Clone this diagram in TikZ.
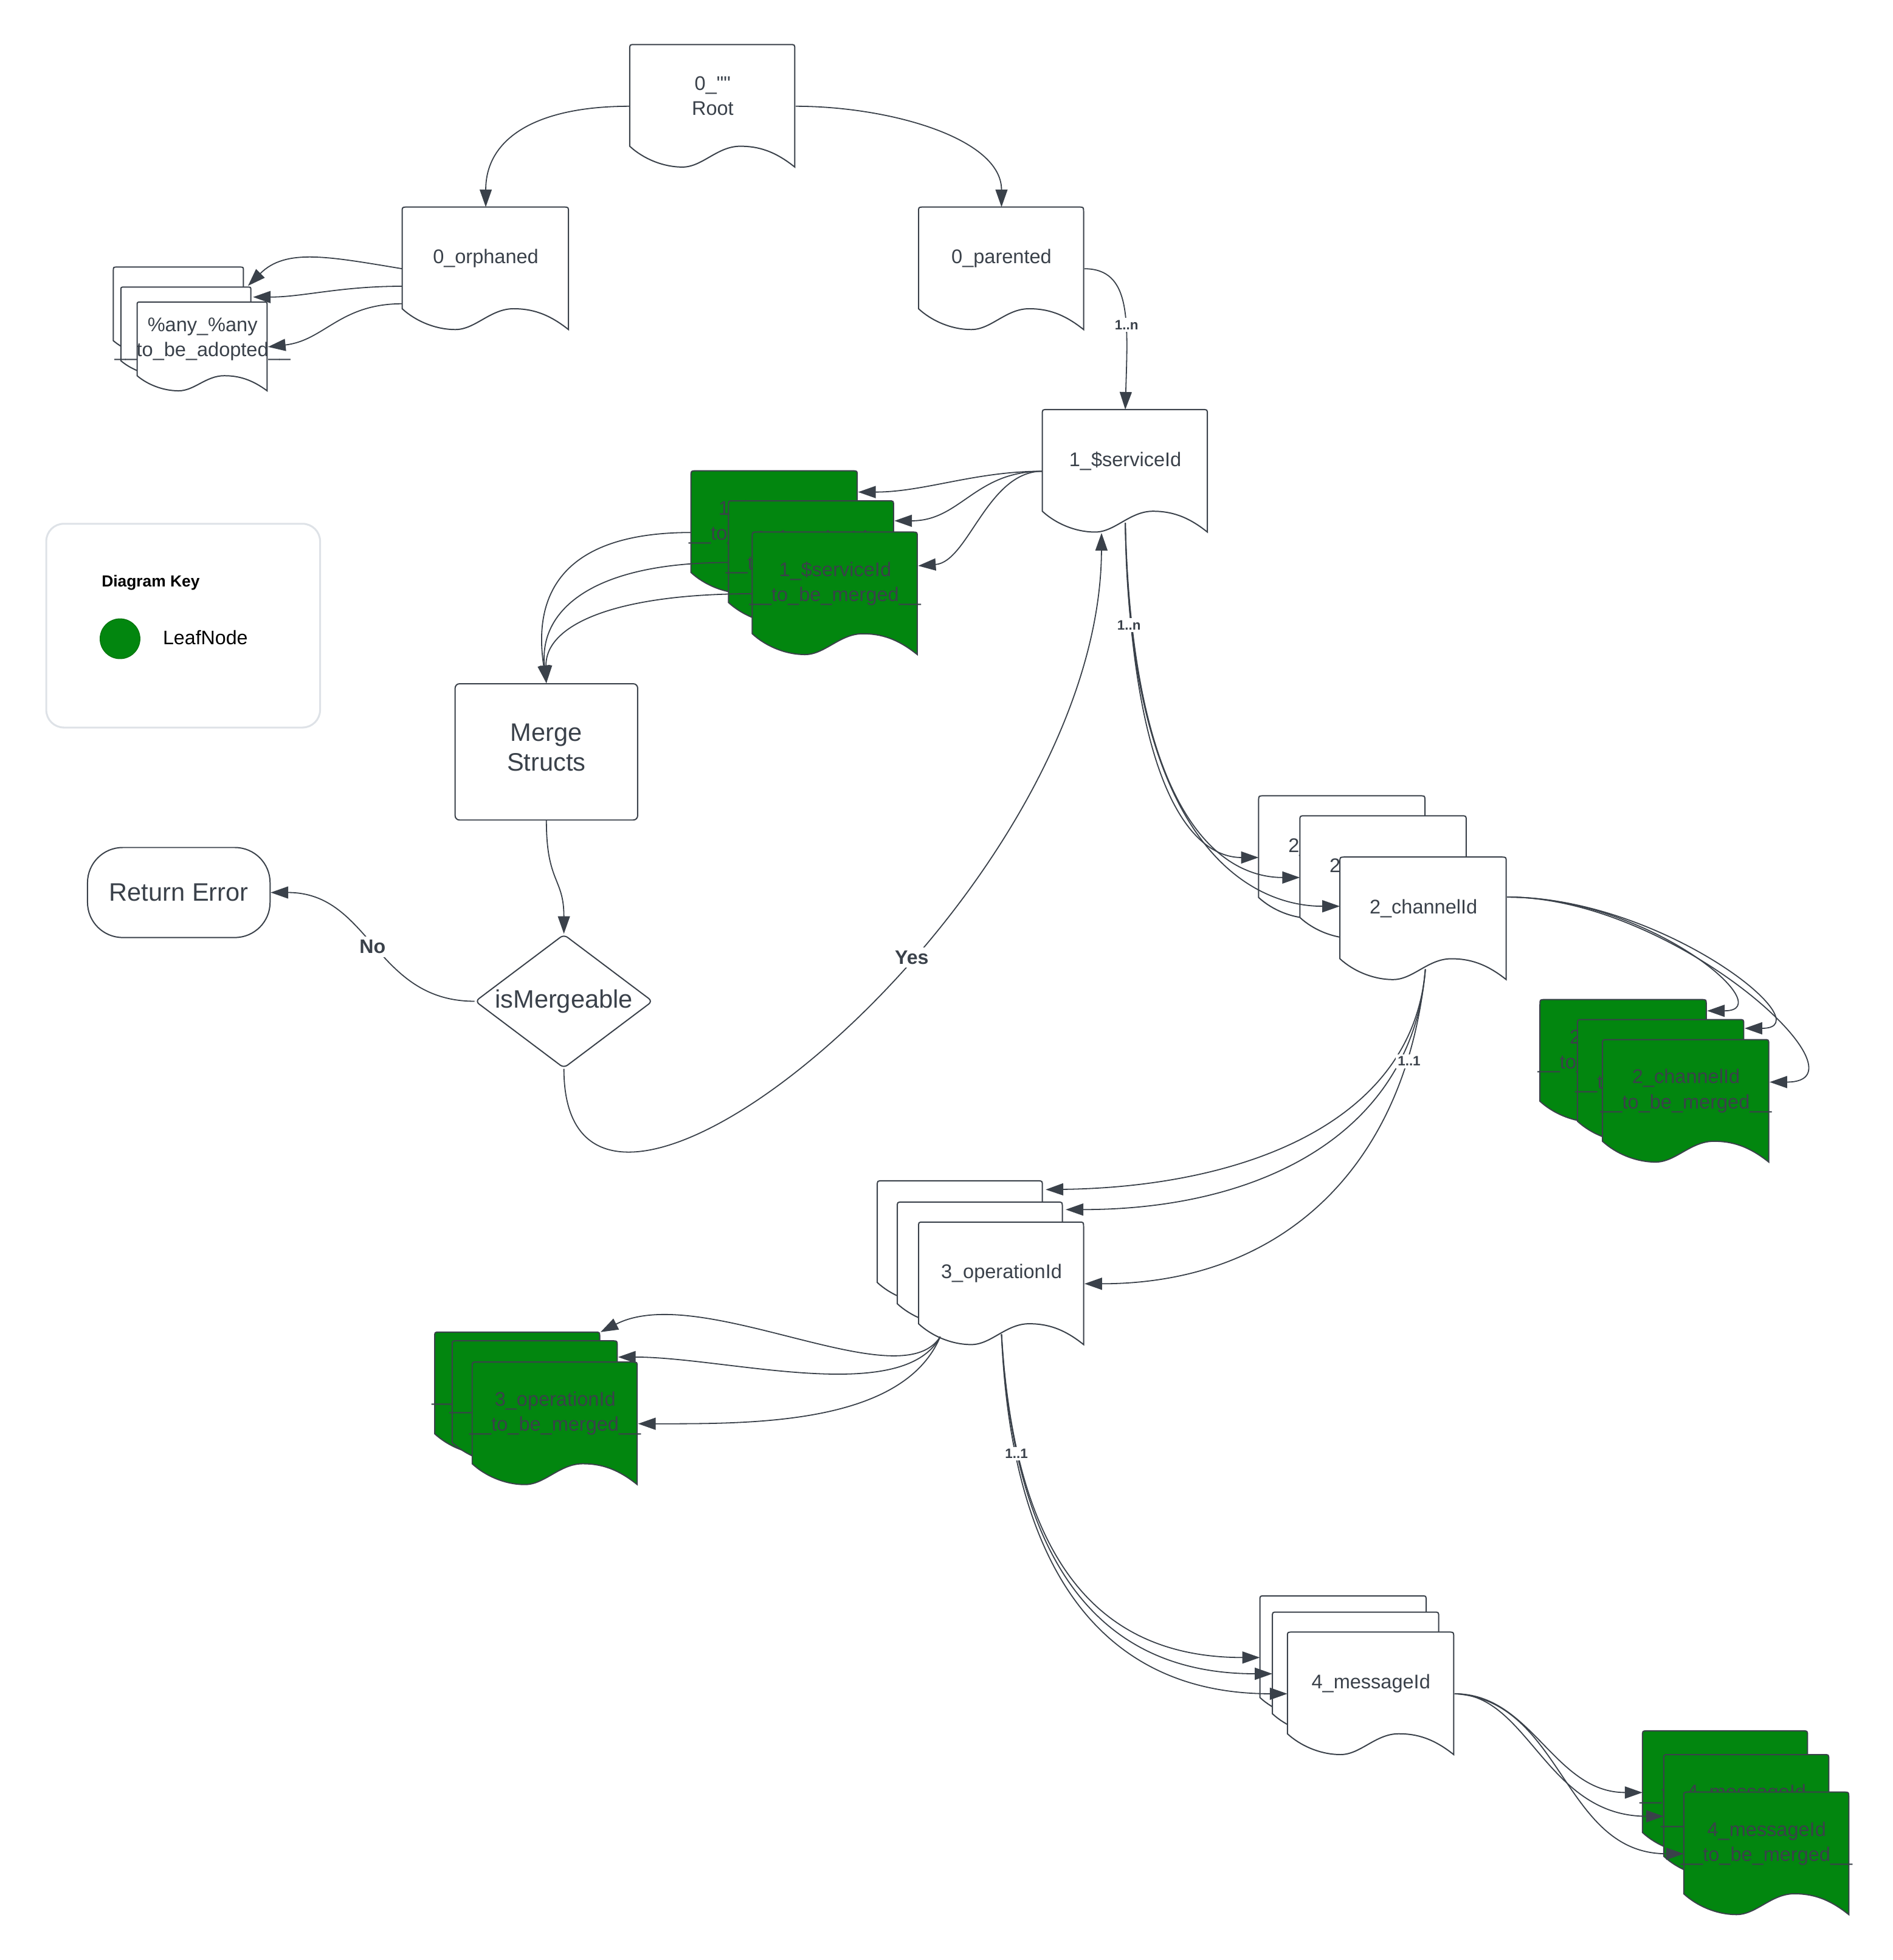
\documentclass[tikz,border=0pt]{standalone}
\usepackage{fontspec}
\setmainfont{Liberation Sans}
\font\rootqfont="Liberation Sans" at 9pt
\usetikzlibrary{arrows.meta,calc,shapes.geometric}
\definecolor{ink}{HTML}{3A414A}
\definecolor{leaf}{HTML}{02860F}
\definecolor{keygray}{HTML}{DEE2E7}

% document shape: name, left, top, width, height, fill, text
\newcommand\docnode[7]{%
  \node[docbox, minimum width=#4*0.02cm, minimum height=#5*0.02cm] (#1) at (#2+#4/2,-#3-#5/2) {};
  \begin{scope}[shift={(#1.north west)}, xscale=#4, yscale=#5]
    \filldraw[docline, fill=#6] (0,-0.83) -- (0,-0.04) .. controls (0,0) .. (0.03,0)
      -- (0.97,0) .. controls (1,0) .. (1,-0.04) -- (1,-1)
      .. controls (0.88,-0.87) and (0.78,-0.83) .. (0.67,-0.83)
      .. controls (0.53,-0.83) and (0.44,-1) .. (0.32,-1)
      .. controls (0.2,-1) and (0.08,-0.93) .. (0,-0.83) -- cycle;
  \end{scope}
  \node[doctext] (#1-t) at ($(#1.north)+(0,-0.42*#5)$) {#7};
}

\begin{document}
\begin{tikzpicture}[x=0.02cm, y=0.02cm,
  docbox/.style={draw=none, inner sep=0pt},
  docline/.style={draw=ink, line width=0.55pt},
  doctext/.style={text=ink, align=center, inner sep=0pt, font=\fontsize{9}{11.4}\selectfont},
  bigbox/.style={draw=ink, line width=0.55pt, fill=white, text=ink, align=center, font=\fontsize{11.5}{13.7}\selectfont},
  link/.style={draw=ink, line width=0.5pt, -{Triangle[length=8pt,width=5.5pt]}},
  mult/.style={fill=white, text=ink, inner sep=1pt, font=\bfseries\fontsize{6.2}{7}\selectfont},
  answer/.style={fill=white, text=ink, inner sep=1.5pt, font=\bfseries\fontsize{8.9}{10}\selectfont}]
\useasboundingbox (0,0) rectangle (1514,-1568);

% key
\node[draw=keygray, line width=0.85pt, rounded corners=8pt, minimum width=219*0.02cm, minimum height=163*0.02cm] (key) at (146.5,-500.5) {};
\node[anchor=west, inner sep=0pt, font=\bfseries\fontsize{7.3}{9}\selectfont] (key-title) at (81,-466) {Diagram Key};
\node[circle, fill=leaf, draw=leaf!85!black, line width=0.3pt, minimum size=32*0.02cm, inner sep=0pt] (key-dot) at (96,-511) {};
\node[anchor=west, inner sep=0pt, font=\fontsize{8.9}{10}\selectfont] (key-leaf) at (130,-510) {LeafNode};

% documents
\docnode{root}{504}{36}{132}{98}{white}{0\_{\rootqfont ""}\\Root}
\docnode{orph}{322}{166}{133}{98}{white}{0\_orphaned}
\docnode{par}{735}{166}{132}{98}{white}{0\_parented}
\docnode{any1}{91}{214}{104}{71}{white}{}
\docnode{any2}{97}{230}{104}{71}{white}{}
\docnode{any3}{110}{242}{104}{71}{white}{\%any\_\%any\\\_\_to\_be\_adopted\_\_}
\docnode{svc}{834}{328}{132}{98}{white}{1\_\$serviceId}
\docnode{svcm1}{553}{377}{133}{98}{leaf}{1\_\$serviceId\\\_\_to\_be\_merged\_\_}
\docnode{svcm2}{583}{401}{132}{98}{leaf}{1\_\$serviceId\\\_\_to\_be\_merged\_\_}
\docnode{svcm3}{602}{426}{132}{98}{leaf}{1\_\$serviceId\\\_\_to\_be\_merged\_\_}
\docnode{chan1}{1007}{637}{133}{98}{white}{2\_channelId}
\docnode{chan2}{1040}{653}{133}{98}{white}{2\_channelId}
\docnode{chan3}{1072}{686}{133}{98}{white}{2\_channelId}
\docnode{chm1}{1232}{800}{133}{98}{leaf}{2\_channelId\\\_\_to\_be\_merged\_\_}
\docnode{chm2}{1262}{816}{133}{98}{leaf}{2\_channelId\\\_\_to\_be\_merged\_\_}
\docnode{chm3}{1282}{832}{133}{98}{leaf}{2\_channelId\\\_\_to\_be\_merged\_\_}
\docnode{op1}{702}{945}{132}{98}{white}{3\_operationId}
\docnode{op2}{718}{962}{132}{98}{white}{3\_operationId}
\docnode{op3}{735}{978}{132}{98}{white}{3\_operationId}
\docnode{opm1}{348}{1066}{132}{98}{leaf}{3\_operationId\\\_\_to\_be\_merged\_\_}
\docnode{opm2}{362}{1073}{132}{98}{leaf}{3\_operationId\\\_\_to\_be\_merged\_\_}
\docnode{opm3}{378}{1090}{132}{98}{leaf}{3\_operationId\\\_\_to\_be\_merged\_\_}
\docnode{msg1}{1008}{1277}{133}{98}{white}{4\_messageId}
\docnode{msg2}{1018}{1290}{133}{98}{white}{4\_messageId}
\docnode{msg3}{1030}{1306}{133}{98}{white}{4\_messageId}
\docnode{msgm1}{1314}{1385}{132}{98}{leaf}{4\_messageId\\\_\_to\_be\_merged\_\_}
\docnode{msgm2}{1331}{1404}{132}{98}{leaf}{4\_messageId\\\_\_to\_be\_merged\_\_}
\docnode{msgm3}{1347}{1434}{132}{98}{leaf}{4\_messageId\\\_\_to\_be\_merged\_\_}

% merge check
\node[bigbox, rounded corners=2pt, minimum width=146*0.02cm, minimum height=109*0.02cm] (merge) at (437,-601.5) {};
\node[text=ink, align=center, inner sep=0pt, font=\fontsize{11.5}{13.7}\selectfont] (merge-t) at ($(merge)+(0,3.5)$) {Merge\\Structs};
\node[bigbox, diamond, aspect=1.33, inner sep=0pt, rounded corners=2pt, minimum width=142*0.02cm, minimum height=107*0.02cm] (ism) at (451,-801) {isMergeable};
\node[bigbox, rounded corners=16pt, minimum width=146*0.02cm, minimum height=72*0.02cm] (err) at (143,-714) {Return Error};

\coordinate (svc-b) at ($(svc.south)+(0,8)$);
\coordinate (chan-r) at ($(chan3.north east)+(0,-32)$);
\coordinate (chan-b) at ($(chan3.south)+(1.5,9)$);
\coordinate (op-l) at ($(op3.south)+(-49,7)$);
\coordinate (op-b) at ($(op3.south)+(0,9)$);

% connectors
\draw[link] (root.west) .. controls +(-75,0) and +(0,55) .. (orph.north);
\draw[link] (root.east) .. controls +(75,0) and +(0,55) .. (par.north);
\draw[link] (orph.west) .. controls +(-60,10) and +(30,30) .. ($(any1.north east)+(3,-15)$);
\draw[link] ($(orph.west)+(0,-14)$) .. controls +(-50,0) and +(40,0) .. ($(any2.north east)+(1,-8)$);
\draw[link] ($(orph.west)+(0,-28)$) .. controls +(-50,0) and +(45,5) .. (any3.east);
\draw[link] (par.east) .. controls +(38,0) and +(2,70) .. (svc.north);
\draw[link] (svc.west) .. controls +(-54,0) and +(53,0) .. ($(svcm1.north east)+(0,-17)$);
\draw[link] (svc.west) .. controls +(-54,0) and +(53,0) .. ($(svcm2.north east)+(0,-16)$);
\draw[link] (svc.west) .. controls +(-44,0) and +(40,3) .. ($(svcm3.north east)+(0,-27)$);
\draw[link] (svcm1.west) .. controls +(-103,0) and +(-11,71) .. (merge.north);
\draw[link] (svcm2.west) .. controls +(-113,0) and +(-6,56) .. (merge.north);
\draw[link] (svcm3.west) .. controls +(-112,0) and +(-1,46) .. (merge.north);
\draw[link] (merge.south) .. controls +(0,-50) and +(0,45) .. (ism.north);
\draw[link] (ism.west) .. controls +(-80,0) and +(80,0) .. (err.east) node[answer, pos=0.5] (no) {No};
\draw[link] (ism.south) .. controls +(0,-215) and +(-1,-294) .. ($(svc.south)+(-19,0)$) node[answer, pos=0.6] (yes) {Yes};
\draw[link] (svc-b) .. controls +(5,-220) and +(-50,0) .. (chan1.west);
\draw[link] (svc-b) .. controls +(6,-240) and +(-60,0) .. (chan2.west);
\draw[link] (svc-b) .. controls +(3,-260) and +(-70,0) .. ($(chan3.west)+(0,10)$);
\draw[link] (chan-r) .. controls +(115,0) and +(60,0) .. ($(chm1.north east)+(0,-9)$);
\draw[link] (chan-r) .. controls +(125,0) and +(65,0) .. ($(chm2.north east)+(0,-7)$);
\draw[link] (chan-r) .. controls +(135,0) and +(85,0) .. ($(chm3.north east)+(0,-34)$);
\draw[link] (chan-b) .. controls +(-10,-125) and +(154,2) .. ($(op1.north east)+(2,-7)$);
\draw[link] (chan-b) .. controls +(-10,-130) and +(158,0) .. ($(op2.north east)+(2,-6)$);
\draw[link] (chan-b) .. controls +(-15,-155) and +(161,0) .. (op3.east);
\draw[link] (op-l) .. controls +(-32,-51) and +(80,41) .. (opm1.north east);
\draw[link] (op-l) .. controls +(-30,-56) and +(86,0) .. ($(opm2.north east)+(0,-13)$);
\draw[link] (op-l) .. controls +(-30,-71) and +(90,0) .. (opm3.east);
\draw[link] (op-b) .. controls +(11,-183) and +(-128,0) .. (msg1.west);
\draw[link] (op-b) .. controls +(11,-198) and +(-128,0) .. (msg2.west);
\draw[link] (op-b) .. controls +(9,-213) and +(-130,0) .. (msg3.west);
\draw[link] (msg3.east) .. controls +(62,0) and +(-71,0) .. (msgm1.west);
\draw[link] (msg3.east) .. controls +(59,0) and +(-94,0) .. (msgm2.west);
\draw[link] (msg3.east) .. controls +(87,-5) and +(-97,0) .. (msgm3.west);

% multiplicities
\node[mult] (par-m) at (901,-260) {1..n};
\node[mult] (svc-m) at (903,-500) {1..n};
\node[mult] (chan-m) at (1127,-849) {1..1};
\node[mult] (op-m) at (813,-1163) {1..1};
\end{tikzpicture}
\end{document}
